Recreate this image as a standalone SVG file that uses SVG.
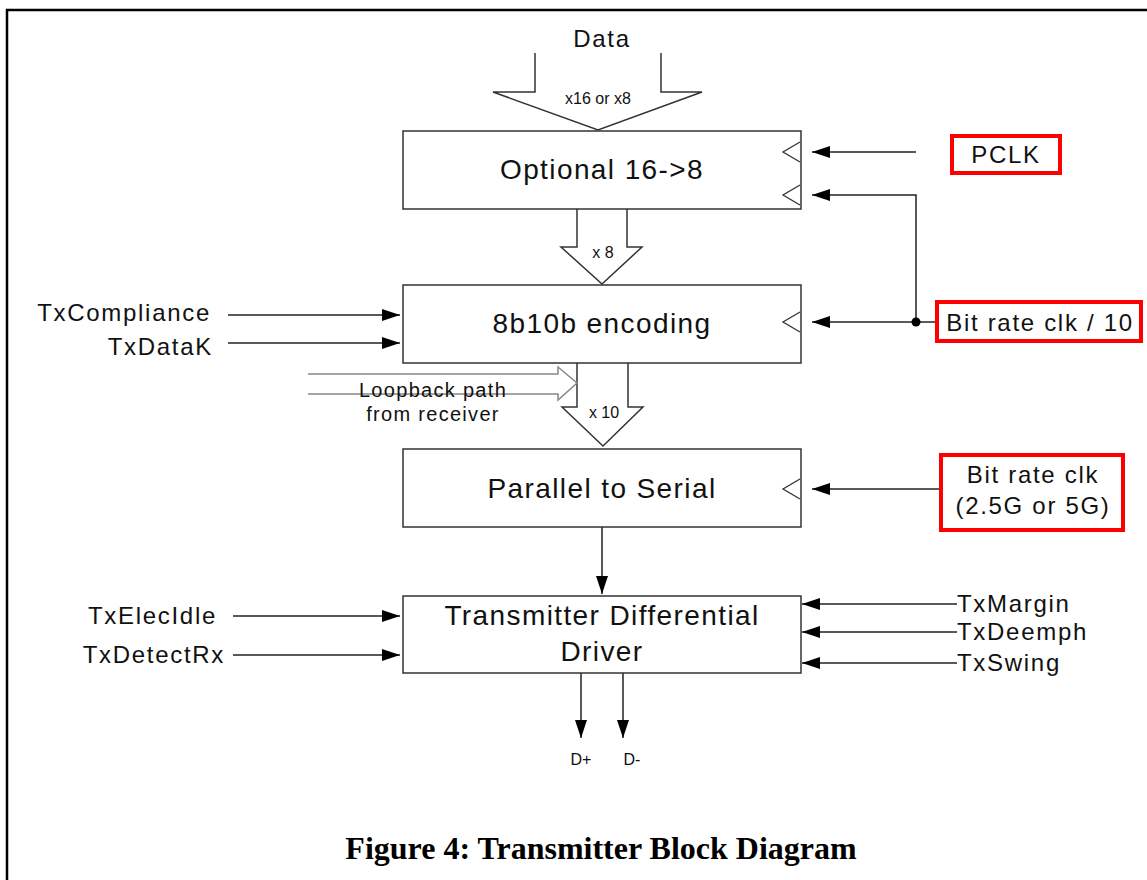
<svg xmlns="http://www.w3.org/2000/svg" width="1147" height="880" viewBox="0 0 1147 880">
<style>
  .box{fill:#fff;stroke:#333;stroke-width:1.5}
  .ln{fill:none;stroke:#222;stroke-width:1.5}
  .clk{fill:none;stroke:#333;stroke-width:1.3}
  .big{fill:#fff;stroke:#333;stroke-width:1.5}
  .red{fill:#fff;stroke:#f00;stroke-width:4}
  .t{font-family:"Liberation Sans",Arial,sans-serif;fill:#111}
  .lg{font-size:28px;letter-spacing:1.4px}
  .md{font-size:24px;letter-spacing:1.7px}
  .sm{font-size:16px}
  .cap{font-family:"Liberation Serif","Times New Roman",serif;font-weight:bold;font-size:32px;fill:#000}
</style>
<defs>
  <marker id="ah" markerUnits="userSpaceOnUse" markerWidth="20" markerHeight="12" refX="18" refY="6" orient="auto">
    <path d="M0,0 L18,6 L0,12 Z" fill="#000"/>
  </marker>
</defs>
<rect width="1147" height="880" fill="#fff"/>
<path d="M7,880 V10 H1147" fill="none" stroke="#000" stroke-width="2.5"/>

<g id="data-in">
  <text class="t md" x="602" y="47" text-anchor="middle">Data</text>
  <path class="big" d="M535,53 V92 H493 L598,130 L702,92 H661 V53"/>
  <text class="t sm" x="598" y="104" text-anchor="middle">x16 or x8</text>
</g>

<g id="connectors">
  <!-- x8 bus arrow -->
  <path class="big" d="M577,209 V247 H561 L602,284 L642,247 H627 V209"/>
  <text class="t sm" x="603" y="258" text-anchor="middle">x 8</text>
  <!-- x10 bus arrow -->
  <path class="big" d="M577,363 V407 H562 L603,446 L643,407 H628 V363"/>
  <text class="t sm" x="604" y="418" text-anchor="middle">x 10</text>
  <!-- loopback -->
  <path d="M308,374 H558 V367 L577,383 L558,400 V394 H308" fill="none" stroke="#888" stroke-width="1.5"/>
  <text class="t" x="433" y="397" text-anchor="middle" style="font-size:20px;letter-spacing:1.3px">Loopback path</text>
  <text class="t" x="433" y="421" text-anchor="middle" style="font-size:20px;letter-spacing:1.3px">from receiver</text>
  <!-- clocks -->
  <line class="ln" x1="916" y1="152" x2="812" y2="152" marker-end="url(#ah)"/>
  <path class="ln" d="M916,322 V195 H812" marker-end="url(#ah)"/>
  <line class="ln" x1="950" y1="322" x2="812" y2="322" marker-end="url(#ah)"/>
  <circle cx="916" cy="322" r="4.5" fill="#000"/>
  <line class="ln" x1="948" y1="489" x2="812" y2="489" marker-end="url(#ah)"/>
  <!-- left inputs -->
  <line class="ln" x1="228" y1="315" x2="400" y2="315" marker-end="url(#ah)"/>
  <line class="ln" x1="228" y1="343" x2="400" y2="343" marker-end="url(#ah)"/>
  <line class="ln" x1="233" y1="616" x2="400" y2="616" marker-end="url(#ah)"/>
  <line class="ln" x1="233" y1="655" x2="400" y2="655" marker-end="url(#ah)"/>
  <!-- right inputs -->
  <line class="ln" x1="957" y1="604" x2="802" y2="604" marker-end="url(#ah)"/>
  <line class="ln" x1="957" y1="632" x2="802" y2="632" marker-end="url(#ah)"/>
  <line class="ln" x1="957" y1="663" x2="802" y2="663" marker-end="url(#ah)"/>
  <!-- P2S to driver -->
  <line class="ln" x1="602" y1="527" x2="602" y2="594" marker-end="url(#ah)"/>
  <!-- outputs -->
  <line class="ln" x1="581" y1="673" x2="581" y2="738" marker-end="url(#ah)"/>
  <line class="ln" x1="623" y1="673" x2="623" y2="738" marker-end="url(#ah)"/>
</g>

<g id="opt16to8">
  <rect class="box" x="403" y="131" width="398" height="78"/>
  <path class="clk" d="M800,142 L783,152 L800,162 M800,185 L783,195 L800,205"/>
  <text class="t lg" x="602" y="179" text-anchor="middle">Optional 16-&gt;8</text>
</g>

<g id="enc8b10b">
  <rect class="box" x="403" y="285" width="398" height="78"/>
  <path class="clk" d="M800,312 L783,322 L800,332"/>
  <text class="t lg" x="602" y="333" text-anchor="middle">8b10b encoding</text>
</g>

<g id="p2s">
  <rect class="box" x="403" y="449" width="398" height="78"/>
  <path class="clk" d="M800,479 L783,489 L800,499"/>
  <text class="t lg" x="602" y="498" text-anchor="middle">Parallel to Serial</text>
</g>

<g id="driver">
  <rect class="box" x="403" y="596" width="398" height="77"/>
  <text class="t lg" x="602" y="625" text-anchor="middle">Transmitter Differential</text>
  <text class="t lg" x="602" y="661" text-anchor="middle">Driver</text>
</g>

<g id="pclk">
  <rect class="red" x="952" y="136" width="108" height="37"/>
  <text class="t md" x="1006" y="163" text-anchor="middle">PCLK</text>
</g>

<g id="bitclk10">
  <rect class="red" x="937" y="302" width="204" height="39"/>
  <text class="t md" x="1040" y="331" text-anchor="middle">Bit rate clk / 10</text>
</g>

<g id="bitclk">
  <rect class="red" x="941" y="455" width="182" height="75"/>
  <text class="t md" x="1033" y="483" text-anchor="middle">Bit rate clk</text>
  <text class="t md" x="1033" y="514" text-anchor="middle">(2.5G or 5G)</text>
</g>

<g id="left-signals">
  <text class="t md" x="211" y="321" text-anchor="end">TxCompliance</text>
  <text class="t md" x="213" y="355" text-anchor="end">TxDataK</text>
  <text class="t md" x="217" y="624" text-anchor="end">TxElecIdle</text>
  <text class="t md" x="225" y="663" text-anchor="end">TxDetectRx</text>
</g>

<g id="right-signals">
  <text class="t md" x="957" y="612">TxMargin</text>
  <text class="t md" x="957" y="640">TxDeemph</text>
  <text class="t md" x="957" y="671">TxSwing</text>
</g>

<g id="outputs">
  <text class="t sm" x="581" y="765" text-anchor="middle">D+</text>
  <text class="t sm" x="632" y="765" text-anchor="middle">D-</text>
</g>

<text class="cap" x="601" y="859" text-anchor="middle">Figure 4: Transmitter Block Diagram</text>
</svg>
